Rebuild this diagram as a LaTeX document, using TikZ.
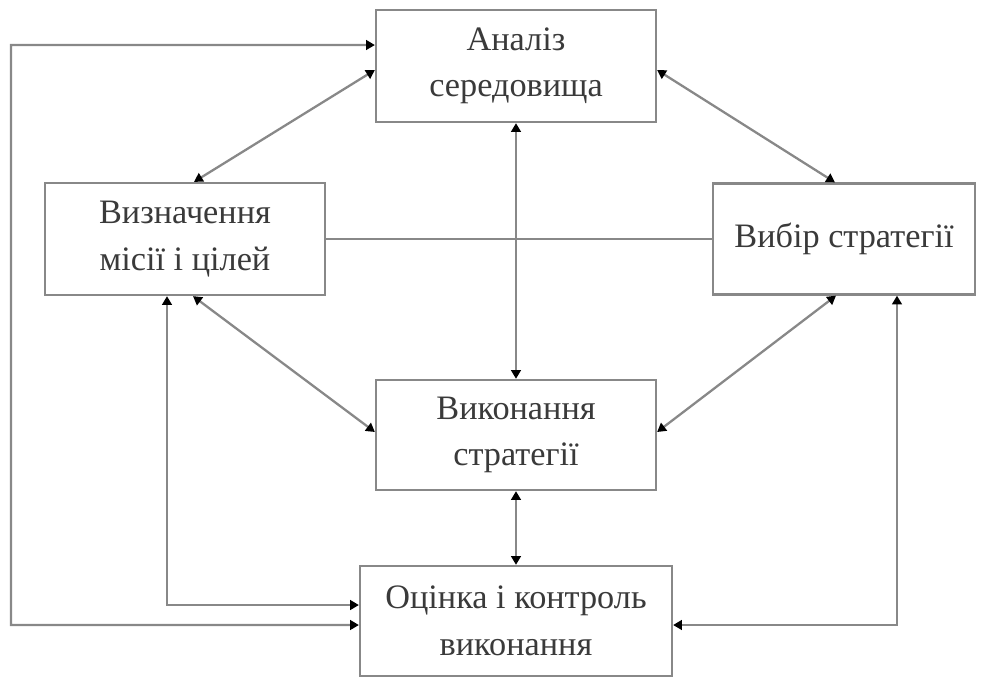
\documentclass[tikz,border=0pt]{standalone}
\usepackage{fontspec}
\setmainfont{Liberation Serif}
\usetikzlibrary{arrows.meta}
\definecolor{linegray}{HTML}{888888}
\definecolor{textgray}{HTML}{3A3A3A}
\tikzset{
  blockbox/.style={draw=linegray, line width=1.3pt, fill=white, align=center, text=textgray,
    font=\fontsize{19.5}{26.5}\selectfont, inner sep=0pt},
  link/.style={draw=linegray, line width=1.3pt},
  dbl/.style={link, {Triangle[length=5pt,width=5.5pt,color=black]}-{Triangle[length=5pt,width=5.5pt,color=black]}}
}
\begin{document}
\begin{tikzpicture}[x=0.02cm, y=-0.02cm]
  \useasboundingbox (0,0) rectangle (984,677);
  \node[blockbox, minimum width=5.6cm, minimum height=2.24cm] (an) at (516,66) {Аналіз\\середовища};
  \node[blockbox, minimum width=5.6cm, minimum height=2.24cm] (miss) at (185,239) {Визначення\\місії і цілей};
  \node[blockbox, minimum width=5.24cm, minimum height=2.22cm] (vyb) at (844,239) {Вибір стратегії};
  \node[blockbox, minimum width=5.6cm, minimum height=2.2cm] (vyk) at (516,435) {Виконання\\стратегії};
  \node[blockbox, minimum width=6.24cm, minimum height=2.2cm] (ots) at (516,621) {Оцінка і контроль\\виконання};
  \coordinate (loop) at (11,45);
  % straight links
  \draw[link] (miss.east) -- (vyb.west);
  \draw[dbl] (an.south) -- (vyk.north);
  \draw[dbl] (vyk.south) -- (ots.north);
  % diagonal links
  \draw[dbl] ([yshift=-0.08cm]an.west) -- ([xshift=0.18cm]miss.north);
  \draw[dbl] ([yshift=-0.08cm]an.east) -- ([xshift=-0.18cm]vyb.north);
  \draw[dbl] ([xshift=0.16cm]miss.south) -- ([yshift=0.06cm]vyk.west);
  \draw[dbl] ([xshift=-0.16cm]vyb.south) -- ([yshift=0.06cm]vyk.east);
  % feedback loops
  \draw[dbl] ([yshift=0.42cm]an.west) -- (loop) |- ([yshift=-0.08cm]ots.west);
  \draw[dbl] ([xshift=-0.36cm]miss.south) |- ([yshift=0.32cm]ots.west);
  \draw[dbl] ([xshift=1.06cm]vyb.south) |- ([yshift=-0.08cm]ots.east);
\end{tikzpicture}
\end{document}
